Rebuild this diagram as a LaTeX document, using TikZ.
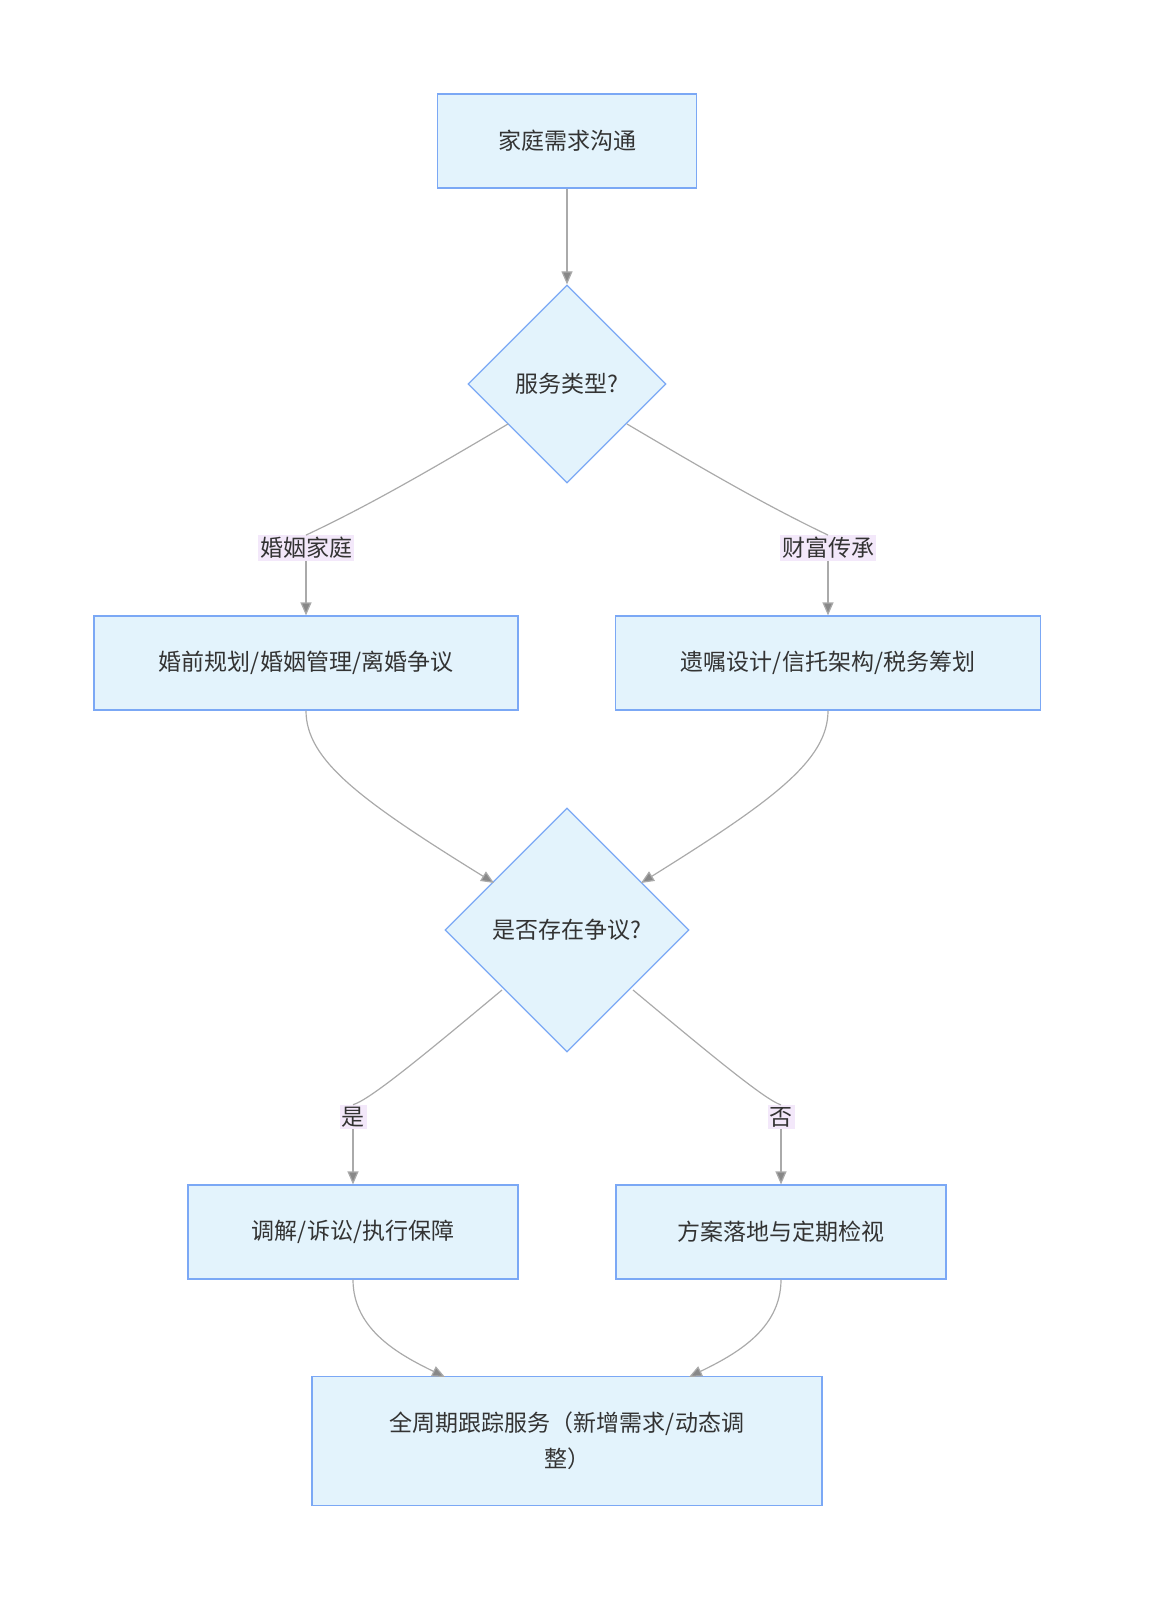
\documentclass[tikz,border=0pt]{standalone}
\usepackage{fontspec}
\setmainfont{Noto Sans CJK SC}
\usetikzlibrary{shapes.geometric,arrows.meta}
\definecolor{nf}{HTML}{E3F3FC}
\definecolor{ns}{HTML}{7BA8F5}
\definecolor{ln}{HTML}{AAAAAA}
\definecolor{lb}{HTML}{F3E8FA}
\definecolor{tx}{HTML}{333333}
\begin{document}
\begin{tikzpicture}[x=1pt,y=-1pt,
 every node/.style={font=\fontsize{23}{36}\selectfont,text=tx},
 box/.style={draw=ns,fill=nf,line width=1.2pt,inner sep=0pt},
 dia/.style={diamond,draw=ns,fill=nf,line width=1.2pt,inner sep=0pt,aspect=1},
 lab/.style={fill=lb,inner sep=2pt},
 e/.style={draw=ln,line width=1.2pt,-{Triangle[length=13pt,width=11pt,fill=ln!80!black]}}]
\useasboundingbox (0,0) rectangle (1158,1600);
\node[box,minimum width=259,minimum height=94] (a) at (567,141) {家庭需求沟通};
\node[dia,minimum width=198,minimum height=198] (d1) at (567,384) {服务类型?};
\node[box,minimum width=424,minimum height=94] (l) at (306,663) {婚前规划/婚姻管理/离婚争议};
\node[box,minimum width=425,minimum height=94] (r) at (828,663) {遗嘱设计/信托架构/税务筹划};
\node[dia,minimum width=244,minimum height=244] (d2) at (567,930) {是否存在争议?};
\node[box,minimum width=330,minimum height=94] (y) at (353,1232) {调解/诉讼/执行保障};
\node[box,minimum width=330,minimum height=94] (n) at (781,1232) {方案落地与定期检视};
\node[box,minimum width=510,minimum height=129,align=center] (f) at (567,1441) {全周期跟踪服务（新增需求/动态调\\整）};
\draw[e] (a) -- (d1);
\node[lab] (l1) at (306,548) {婚姻家庭};
\node[lab] (l2) at (828,548) {财富传承};
\node[lab] (l3) at (353,1117) {是};
\node[lab] (l4) at (781,1117) {否};
\draw[ln,line width=1.2pt] (508,424) .. controls (430,470) and (370,505) .. (l1.north);
\draw[e] (l1.south) .. controls (306,580) and (306,595) .. (l.north);
\draw[ln,line width=1.2pt] (627,424) .. controls (705,470) and (765,505) .. (l2.north);
\draw[e] (l2.south) .. controls (828,580) and (828,595) .. (r.north);
\draw[e] (l.south) .. controls (306,760) and (360,800) .. (494,883);
\draw[e] (r.south) .. controls (828,760) and (774,800) .. (641,883);
\draw[ln,line width=1.2pt] (502,990) .. controls (430,1050) and (370,1100) .. (l3.north);
\draw[e] (l3.south) .. controls (353,1150) and (353,1165) .. (y.north);
\draw[ln,line width=1.2pt] (633,990) .. controls (705,1050) and (765,1100) .. (l4.north);
\draw[e] (l4.south) .. controls (781,1150) and (781,1165) .. (n.north);
\draw[e] (y.south) .. controls (353,1330) and (400,1355) .. (445,1377);
\draw[e] (n.south) .. controls (781,1330) and (734,1355) .. (689,1377);
\end{tikzpicture}
\end{document}
